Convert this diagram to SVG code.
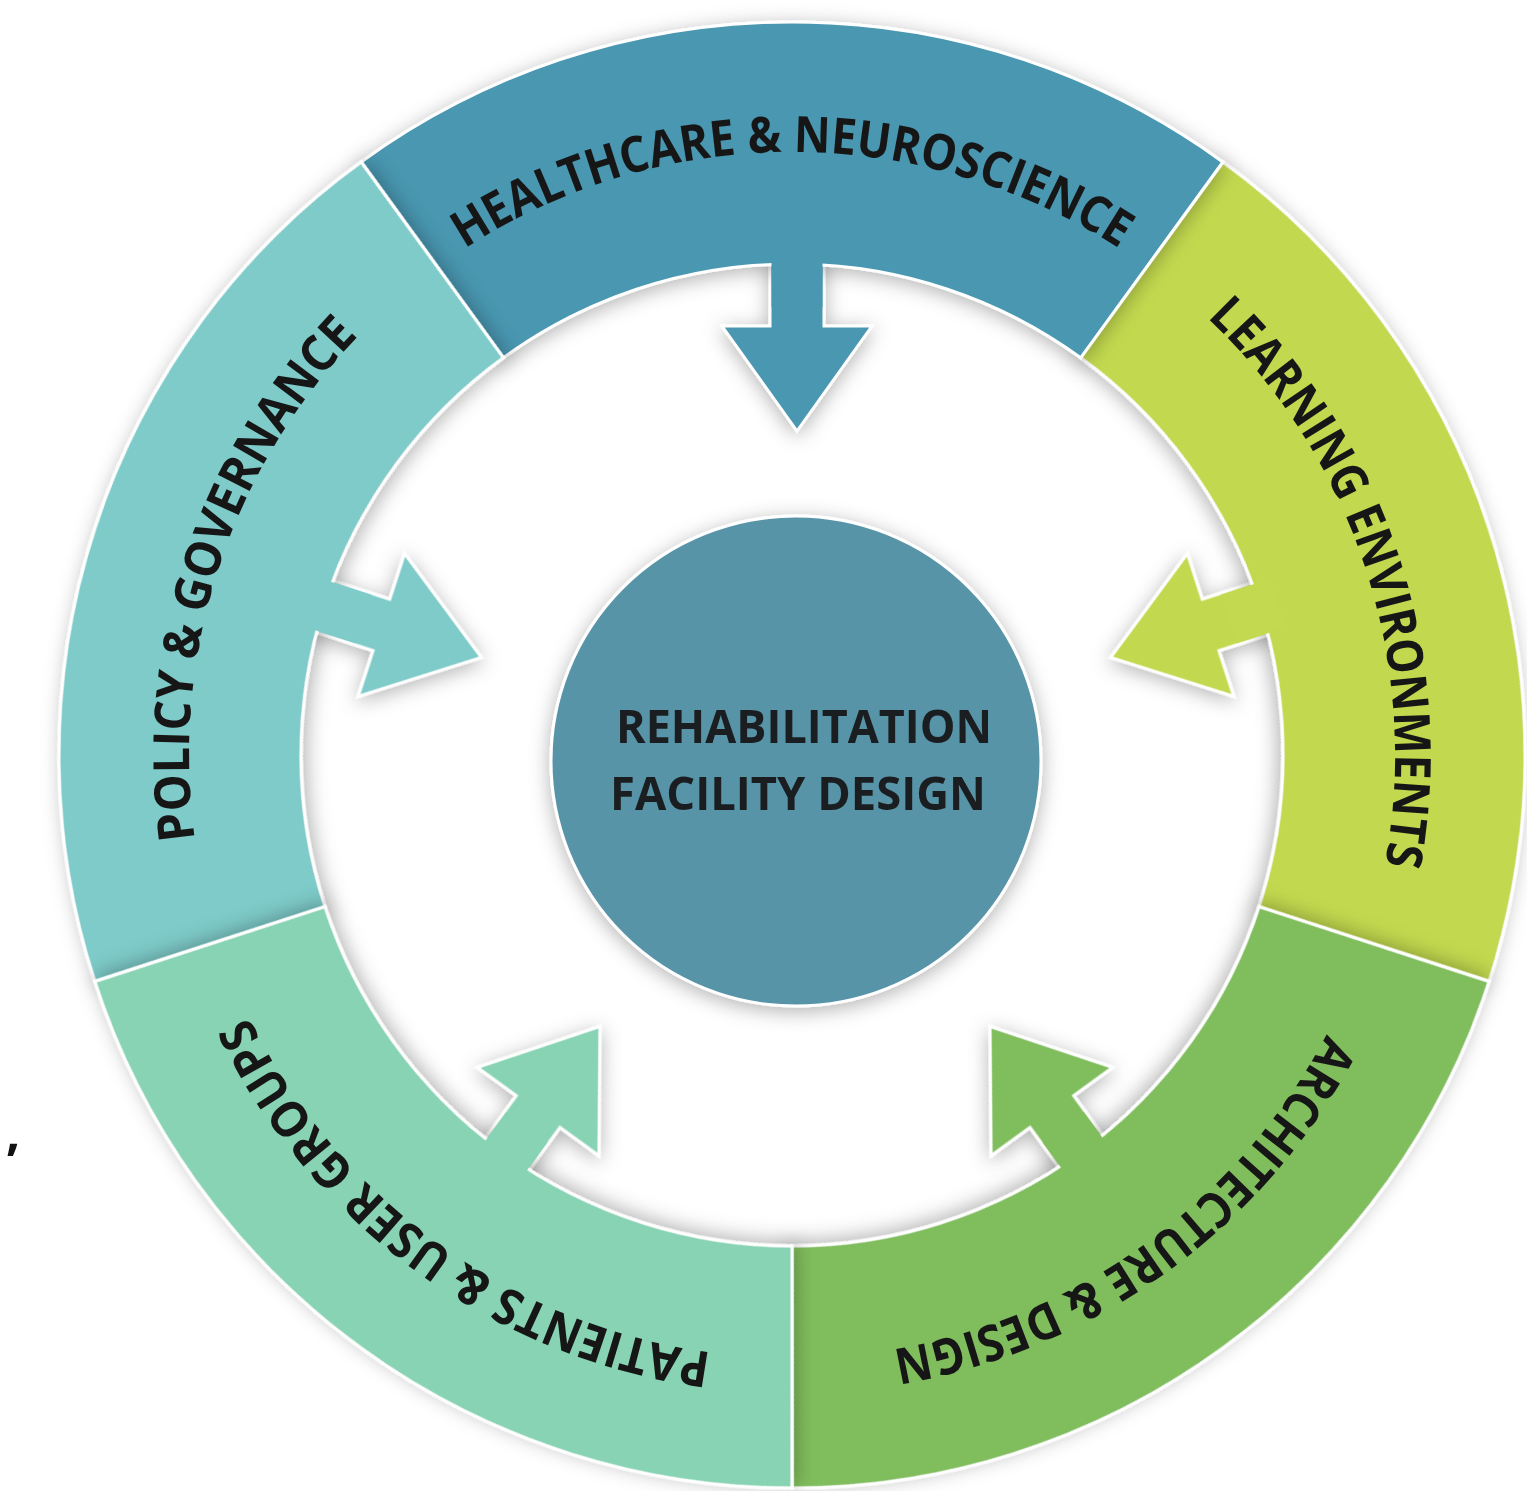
<svg xmlns="http://www.w3.org/2000/svg" xmlns:xlink="http://www.w3.org/1999/xlink" width="1527" height="1491" viewBox="0 0 1527 1491">
  <defs>
    <style>
      .c-health { fill: #4997B1; }
      .c-learn  { fill: #C2D950; }
      .c-arch   { fill: #80BE5D; }
      .c-patient{ fill: #87D3B3; }
      .c-policy { fill: #7ECBC9; }
      .band  { stroke: #ffffff; stroke-width: 3; stroke-linejoin: miter; }
      .arrow { stroke: #ffffff; stroke-width: 3; stroke-linejoin: miter; }
      .root  { stroke: none; }
      .ring-label {
        font-family: "Open Sans", "Liberation Sans", sans-serif;
        font-weight: 700; font-size: 50px; fill: #161616;
      }
      .hub-label {
        font-family: "Open Sans", "Liberation Sans", sans-serif;
        font-weight: 700; font-size: 46px; fill: #1b1e20; text-anchor: middle;
      }
    </style>

    <!-- soft shadow used under the ring, the arrows and the hub -->
    <filter id="soft-shadow" x="-20%" y="-20%" width="140%" height="140%">
      <feDropShadow dx="0" dy="4" stdDeviation="10" flood-color="#000" flood-opacity="0.3"/>
    </filter>

    <!-- one 72-degree band of the ring, centred on "up" (ring centre at 0,0) -->
    <path id="band" d="M-430.85,-593.01 A733,733 0 0 1 430.85,-593.01 L288.60,-397.23 A491,491 0 0 0 -288.60,-397.23 Z"/>

    <!-- clockwise baseline for the band captions -->
    <path id="label-arc" d="M-354.44,-487.84 A603,603 0 0 1 354.44,-487.84"/>

    <!-- block arrow pointing from the ring towards the hub -->
    <path id="arrow" d="M-27,-510 L27,-510 L27,-437 L75,-437 L0,-332 L-75,-437 L-27,-437 Z"/>

    <!-- fill-only strip that joins an arrow shaft to its band -->
    <rect id="arrow-root" x="-25.5" y="-508" width="51" height="52"/>
  </defs>

  <rect width="1527" height="1491" fill="#ffffff"/>

  <!-- arrows from each field into the hub -->
  <g id="connectors" filter="url(#soft-shadow)">
    <use href="#arrow" class="arrow c-health"  transform="translate(797 763) rotate(0)"/>
    <use href="#arrow" class="arrow c-learn"   transform="translate(795 760) rotate(72)"/>
    <use href="#arrow" class="arrow c-arch"    transform="translate(795 758) rotate(144)"/>
    <use href="#arrow" class="arrow c-patient" transform="translate(795 758) rotate(216)"/>
    <use href="#arrow" class="arrow c-policy"  transform="translate(797 760) rotate(288)"/>
  </g>

  <g id="learning-environments">
    <use href="#band" class="band c-learn" filter="url(#soft-shadow)" transform="translate(792 755) rotate(72)"/>
    <use href="#arrow-root" class="root c-learn" transform="translate(795 760) rotate(72)"/>
    <text class="ring-label" transform="translate(792 755) rotate(72)"><textPath href="#label-arc" startOffset="50%" text-anchor="middle" textLength="600" lengthAdjust="spacingAndGlyphs">LEARNING ENVIRONMENTS</textPath></text>
  </g>

  <g id="healthcare-neuroscience">
    <use href="#band" class="band c-health" filter="url(#soft-shadow)" transform="translate(792 755) rotate(0)"/>
    <use href="#arrow-root" class="root c-health" transform="translate(797 763) rotate(0)"/>
    <text class="ring-label" transform="translate(792 755) rotate(0)"><textPath href="#label-arc" startOffset="50%" text-anchor="middle" textLength="692" lengthAdjust="spacingAndGlyphs">HEALTHCARE &amp; NEUROSCIENCE</textPath></text>
  </g>

  <g id="architecture-design">
    <use href="#band" class="band c-arch" filter="url(#soft-shadow)" transform="translate(792 755) rotate(144)"/>
    <use href="#arrow-root" class="root c-arch" transform="translate(795 758) rotate(144)"/>
    <text class="ring-label" transform="translate(792 755) rotate(144)"><textPath href="#label-arc" startOffset="50%" text-anchor="middle" textLength="556" lengthAdjust="spacingAndGlyphs">ARCHITECTURE &amp; DESIGN</textPath></text>
  </g>

  <g id="policy-governance">
    <use href="#band" class="band c-policy" filter="url(#soft-shadow)" transform="translate(792 755) rotate(288)"/>
    <use href="#arrow-root" class="root c-policy" transform="translate(797 760) rotate(288)"/>
    <text class="ring-label" transform="translate(792 755) rotate(288)"><textPath href="#label-arc" startOffset="50%" text-anchor="middle" textLength="548" lengthAdjust="spacingAndGlyphs">POLICY &amp; GOVERNANCE</textPath></text>
  </g>

  <g id="patients-user-groups">
    <use href="#band" class="band c-patient" filter="url(#soft-shadow)" transform="translate(792 755) rotate(216)"/>
    <use href="#arrow-root" class="root c-patient" transform="translate(795 758) rotate(216)"/>
    <text class="ring-label" transform="translate(792 755) rotate(216)"><textPath href="#label-arc" startOffset="50%" text-anchor="middle" textLength="596" lengthAdjust="spacingAndGlyphs">PATIENTS &amp; USER GROUPS</textPath></text>
  </g>

  <!-- central hub -->
  <g id="rehabilitation-facility-design">
    <circle cx="796" cy="761" r="245" fill="#5894A8" stroke="#ffffff" stroke-width="3" filter="url(#soft-shadow)"/>
    <text class="hub-label" x="804" y="743" textLength="376" lengthAdjust="spacingAndGlyphs">REHABILITATION</text>
    <text class="hub-label" x="798" y="810" textLength="376" lengthAdjust="spacingAndGlyphs">FACILITY DESIGN</text>
  </g>

  <text x="6" y="1150" font-family="Open Sans, Liberation Sans, sans-serif" font-weight="700" font-size="50" fill="#111">,</text>
</svg>
